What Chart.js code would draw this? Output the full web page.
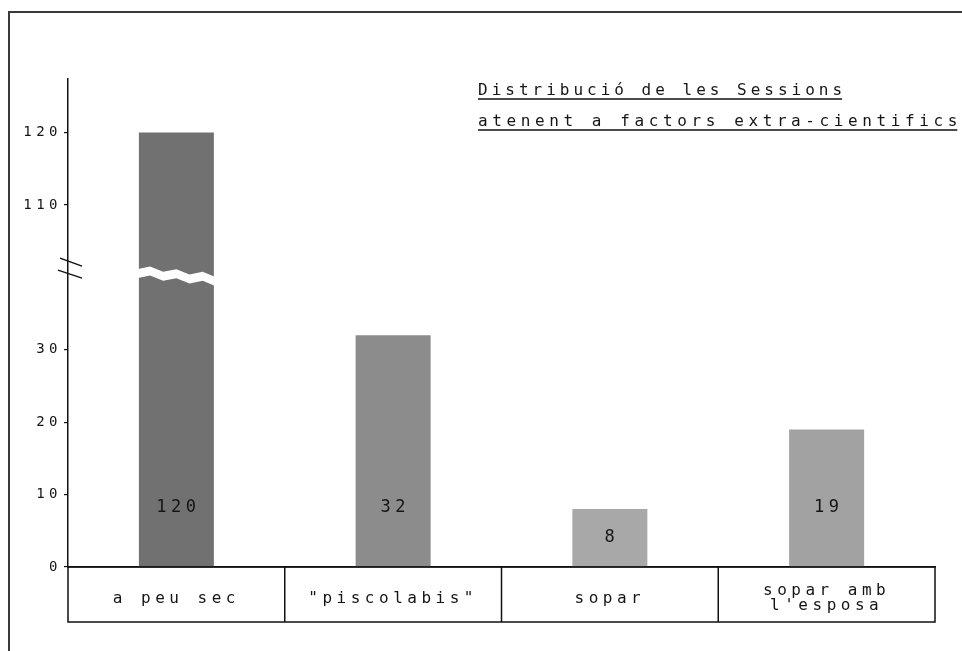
<!DOCTYPE html>
<html><head><meta charset="utf-8">
<script src="https://cdn.jsdelivr.net/npm/chart.js@4"></script>
<style>html,body{margin:0;padding:0;background:#fff;} canvas{display:block;}</style>
</head><body>
<canvas id="c" width="962" height="651"></canvas>
<script>
// ---- data ----
const categories = ['a peu sec', '"piscolabis"', 'sopar', ['sopar amb', "l'esposa"]];
const sessions = [120, 32, 8, 19];
const barColors = ['#717171', '#8c8c8c', '#a8a8a8', '#a2a2a2'];
const yTickValues = [0, 10, 20, 30, 110, 120];
const titleLines = ['Distribució de les Sessions', 'atenent a factors extra-cientifics'];
const axisBreak = [41, 101];   // lower segment ends at 41, upper segment starts at 101
const yTop = 127.4;

const F = "'DejaVu Sans Mono', monospace";
const LS = '4.5px';
const INK = '#151515';
const GAP = axisBreak[1] - axisBreak[0];
const fwd = v => v <= axisBreak[0] ? v : (v >= axisBreak[1] ? v - GAP : axisBreak[0]);
const inv = t => t <= axisBreak[0] ? t : t + GAP;

class BrokenLinearScale extends Chart.LinearScale {
  getPixelForValue(v) { return super.getPixelForValue(fwd(v)); }
  getValueForPixel(p) { return inv(super.getValueForPixel(p)); }
}
BrokenLinearScale.id = 'brokenLinear';
BrokenLinearScale.defaults = Chart.LinearScale.defaults;
Chart.register(BrokenLinearScale);

const decor = {
  id: 'decor',
  beforeUpdate(chart) { chart.ctx.letterSpacing = LS; },
  beforeDraw(chart) {
    const c = chart.ctx;
    c.save();
    c.fillStyle = '#fff'; c.fillRect(0, 0, chart.width, chart.height);
    c.strokeStyle = '#3a3a3a'; c.lineWidth = 2;
    c.beginPath(); c.moveTo(9, chart.height); c.lineTo(9, 12); c.lineTo(chart.width, 12); c.stroke();
    c.restore();
    c.letterSpacing = LS;
  },
  afterDatasetsDraw(chart) {
    const c = chart.ctx, ys = chart.scales.y, meta = chart.getDatasetMeta(0);
    const yb = ys.getPixelForValue(axisBreak[0]);
    meta.data.forEach((bar, i) => {
      if (sessions[i] <= axisBreak[1]) return;
      const l = bar.x - bar.width / 2 - 2, r = bar.x + bar.width / 2 + 2;
      const n = 6, tilt = 8, amp = 2, gapH = 9;
      c.save(); c.fillStyle = '#fff'; c.beginPath();
      for (let k = 0; k <= n; k++) {
        const x = l + (r - l) * k / n, y = yb - 3 + tilt * k / n + (k % 2 ? -amp : amp);
        k ? c.lineTo(x, y) : c.moveTo(x, y);
      }
      for (let k = n; k >= 0; k--) {
        const x = l + (r - l) * k / n, y = yb - 3 + gapH + tilt * k / n + (k % 2 ? -amp : amp);
        c.lineTo(x, y);
      }
      c.closePath(); c.fill(); c.restore();
    });
    const ax = ys.right;
    c.save(); c.strokeStyle = '#111'; c.lineWidth = 1.5; c.beginPath();
    c.moveTo(ax - 8, yb - 12); c.lineTo(ax + 14, yb - 4);
    c.moveTo(ax - 10, yb); c.lineTo(ax + 14, yb + 8);
    c.stroke(); c.restore();
    c.save(); c.font = '17px ' + F; c.fillStyle = INK; c.textAlign = 'center'; c.textBaseline = 'middle'; c.letterSpacing = LS;
    meta.data.forEach((bar, i) => {
      const v = sessions[i];
      const y = ys.getPixelForValue(v >= 16 ? 8.2 : v / 2);
      c.fillText(String(v), bar.x + 2, y);
    });
    c.restore();
  },
  afterDraw(chart) {
    const c = chart.ctx, xs = chart.scales.x, ca = chart.chartArea;
    const top = ca.bottom, bot = ca.bottom + 55, n = categories.length, w = (ca.right - ca.left) / n;
    c.save(); c.strokeStyle = '#111'; c.lineWidth = 1.5; c.beginPath();
    c.rect(ca.left, top, ca.right - ca.left, bot - top);
    for (let i = 1; i < n; i++) { const x = xs.getPixelForTick(i) - w / 2; c.moveTo(x, top); c.lineTo(x, bot); }
    c.stroke();
    c.font = '16px ' + F; c.fillStyle = INK; c.textAlign = 'left'; c.textBaseline = 'middle';
    const tx = 478, tys = [91, 122], spacing = [4, 4.6];
    titleLines.forEach((t, i) => {
      c.letterSpacing = spacing[i] + 'px';
      c.fillText(t, tx, tys[i]);
      const wdt = c.measureText(t).width - spacing[i];
      c.lineWidth = 1.3; c.beginPath(); c.moveTo(tx, tys[i] + 8); c.lineTo(tx + wdt, tys[i] + 8); c.stroke();
    });
    c.restore();
  }
};

new Chart(document.getElementById('c'), {
  type: 'bar',
  data: {
    labels: categories,
    datasets: [{ data: sessions, backgroundColor: barColors, borderWidth: 0, barPercentage: 0.346, categoryPercentage: 1 }]
  },
  options: {
    responsive: false, devicePixelRatio: 1, animation: false,
    layout: { padding: { top: 79, left: 10, right: 27, bottom: 29 } },
    plugins: { legend: { display: false }, title: { display: false }, tooltip: { enabled: false } },
    scales: {
      x: {
        type: 'category', offset: true,
        grid: { display: false, drawTicks: false },
        border: { display: true, color: '#111', width: 1.5 },
        ticks: { color: INK, font: { family: F, size: 16, lineHeight: 0.95 }, padding: 24, maxRotation: 0, autoSkip: false, crossAlign: 'center' },
        afterFit: s => { s.height = 55; }
      },
      y: {
        type: 'brokenLinear', min: 0, max: fwd(yTop), bounds: 'data',
        grid: { display: true, drawOnChartArea: false, drawTicks: true, tickLength: 4, color: '#111', lineWidth: 1.2 },
        border: { display: true, color: '#111', width: 1.5 },
        ticks: { color: INK, font: { family: F, size: 14 }, padding: 2, autoSkip: false, callback: v => String(v) },
        afterBuildTicks: s => { s.ticks = yTickValues.map(v => ({ value: v })); },
        afterFit: s => { s.width = 58; }
      }
    }
  },
  plugins: [decor]
});
</script>
</body></html>
